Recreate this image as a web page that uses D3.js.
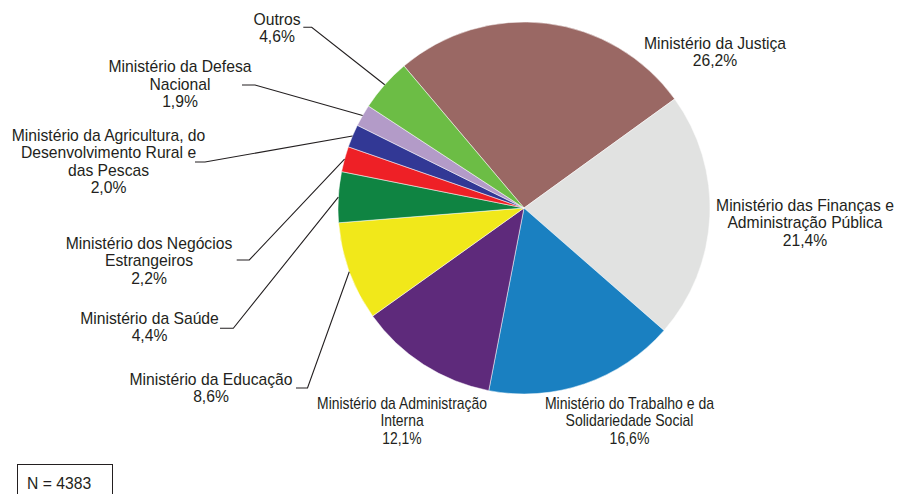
<!DOCTYPE html>
<html>
<head>
<meta charset="utf-8">
<script src="https://cdn.jsdelivr.net/npm/d3@7"></script>
<style>
  body { margin: 0; background: #fff; }
  text { font-family: "Liberation Sans", Arial, sans-serif; fill: #231f20; }
</style>
</head>
<body>
<div id="chart"></div>
<script>
// Data (clockwise from the top, starting at Justiça)
const categories = [
    ["Ministério da Justiça"],
    ["Ministério das Finanças e", "Administração Pública"],
    ["Ministério do Trabalho e da", "Solidariedade Social"],
    ["Ministério da Administração", "Interna"],
    ["Ministério da Educação"],
    ["Ministério da Saúde"],
    ["Ministério dos Negócios", "Estrangeiros"],
    ["Ministério da Agricultura, do", "Desenvolvimento Rural e", "das Pescas"],
    ["Ministério da Defesa", "Nacional"],
    ["Outros"]
];
const percents = [26.2, 21.4, 16.6, 12.1, 8.6, 4.4, 2.2, 2.0, 1.9, 4.6];
const percentLabels = ["26,2%", "21,4%", "16,6%", "12,1%", "8,6%", "4,4%", "2,2%", "2,0%", "1,9%", "4,6%"];
const colors = ["#9a6864", "#e1e2e1", "#1a80c1", "#5e2a7b", "#f1e81a",
                "#0f8442", "#ee2026", "#323895", "#b39bc8", "#6cbd45"];
const totalN = 4383;

// Layout
const width = 898, height = 494;
const cx = 524, cy = 208, radius = 186;
const startDeg = -40.2;
const fontSize = 15.7, lineH = 17.5;

// label centre x, first line centre y, horizontal squeeze, leader elbow (null = none)
const labelPos = [
    {x: 715, y: 43, sx: 1, lead: null},
    {x: 805, y: 205, sx: 1, lead: null},
    {x: 629.5, y: 403, sx: 0.895, lead: null},
    {x: 402, y: 403, sx: 0.885, lead: null},
    {x: 211, y: 379, sx: 1, lead: [[296, 388], [307.5, 388]]},
    {x: 149.5, y: 318, sx: 1, lead: [[220, 328.3], [233.3, 328.3]]},
    {x: 149, y: 243, sx: 1, lead: [[236.7, 260], [249.3, 260]]},
    {x: 108.5, y: 135, sx: 1, lead: [[195, 162], [205, 162]]},
    {x: 180, y: 66.7, sx: 1, lead: [[242, 85], [255, 85]]},
    {x: 277, y: 19, sx: 1, lead: [[303.3, 27.3], [311.7, 27.3]]}
];

const svg = d3.select("#chart")
    .append("svg")
    .attr("width", width)
    .attr("height", height);

const data = percents.map((v, i) => ({name: categories[i], value: v, pct: percentLabels[i], color: colors[i], pos: labelPos[i]}));

const start = startDeg * Math.PI / 180;
const pie = d3.pie()
    .sort(null)
    .value(d => d.value)
    .startAngle(start)
    .endAngle(start + 2 * Math.PI);

const arc = d3.arc().innerRadius(0).outerRadius(radius);

const g = svg.append("g")
    .attr("transform", `translate(${cx},${cy})`);

const arcs = pie(data);

g.selectAll("path.slice")
    .data(arcs)
    .enter()
    .append("path")
    .attr("class", "slice")
    .attr("d", arc)
    .attr("fill", d => d.data.color)
    .attr("stroke", "#fff")
    .attr("stroke-width", 0.5);

// leader lines
const line = d3.line();
arcs.forEach(a => {
    const p = a.data.pos;
    if (!p.lead) return;
    const mid = (a.startAngle + a.endAngle) / 2;
    const edge = [cx + radius * Math.sin(mid), cy - radius * Math.cos(mid)];
    svg.append("path")
        .attr("d", line([p.lead[0], p.lead[1], edge]))
        .attr("fill", "none")
        .attr("stroke", "#231f20")
        .attr("stroke-width", 1.1);
});

// labels
arcs.forEach(a => {
    const p = a.data.pos;
    const lines = a.data.name.concat([a.data.pct]);
    const t = svg.append("text")
        .attr("text-anchor", "middle")
        .attr("transform", `translate(${p.x},0) scale(${p.sx},1)`)
        .style("font-size", fontSize + "px");
    lines.forEach((s, i) => {
        t.append("tspan")
            .attr("x", 0)
            .attr("y", p.y + i * lineH + fontSize * 0.36)
            .text(s);
    });
});

// N box
svg.append("rect")
    .attr("x", 17.5)
    .attr("y", 464.5)
    .attr("width", 95)
    .attr("height", 40)
    .attr("fill", "none")
    .attr("stroke", "#231f20")
    .attr("stroke-width", 1);

svg.append("text")
    .attr("x", 27)
    .attr("y", 489)
    .style("font-size", fontSize + "px")
    .text("N = " + totalN);
</script>
</body>
</html>
